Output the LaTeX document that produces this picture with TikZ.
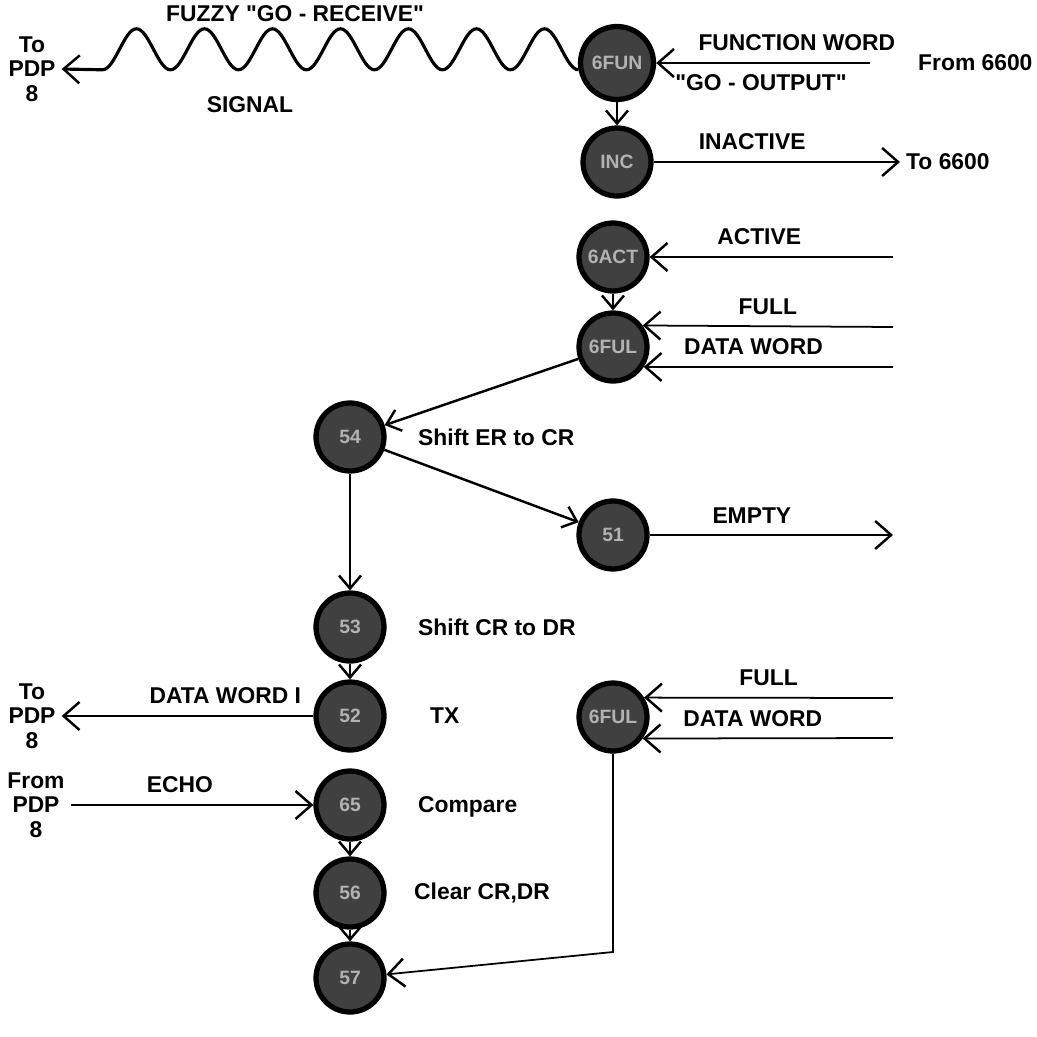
\documentclass[tikz,border=0pt]{standalone}
\usepackage{fontspec}
\setmainfont{Liberation Sans}
\usepackage{tikz}
\usetikzlibrary{arrows.meta}
\newcommand{\dq}{\XeTeXglyph\XeTeXcharglyph"22\relax}

\begin{document}
\begin{tikzpicture}[
    x=0.02cm, y=-0.02cm,
    every node/.style={font=\bfseries\fontsize{13}{15}\selectfont},
    state/.style={circle, draw=black, line width=3pt, fill=black!75, minimum size=1.36cm, inner sep=0pt, text=black!30, font=\bfseries\fontsize{11}{12}\selectfont},
    arrow/.style={-{Straight Barb[length=3.2mm, width=5.6mm, line width=1.4pt]}, line width=1pt},
    flow/.style={-{Straight Barb[length=2.6mm, width=4.4mm, line width=1.4pt]}, line width=1.4pt},
    note/.style={anchor=west},
    side/.style={align=center, font=\bfseries\fontsize{13}{14}\selectfont}
]
    \useasboundingbox (0,0) rectangle (1037,1037);

    % States
    \node (fun)  [state, minimum size=1.46cm] at (617,63) {6FUN};
    \node (inc)  [state] at (617,162) {INC};
    \node (act)  [state] at (613,257) {6ACT};
    \node (ful)  [state] at (613,347) {6FUL};
    \node (s54)  [state] at (350,437) {54};
    \node (s51)  [state] at (613,535) {51};
    \node (s53)  [state] at (350,627) {53};
    \node (s52)  [state] at (350,716) {52};
    \node (s65)  [state] at (350,805) {65};
    \node (s56)  [state] at (350,893) {56};
    \node (s57)  [state] at (350,978) {57};
    \node (ful2) [state] at (613,717) {6FUL};

    % Outside ends
    \node (from66) [anchor=west] at (912,63) {From 6600};
    \node (to66) [anchor=west] at (900,162) {To 6600};
    \node (topdp) [side] at (32,69) {To\\PDP\\8};
    \node (topdp2) [side] at (32,716) {To\\PDP\\8};
    \node (frompdp) [side] at (36,805) {From\\PDP\\8};
    \coordinate (actin) at (893,257);
    \coordinate (fulin) at (893,327);
    \coordinate (datin) at (893,367);
    \coordinate (emptyout) at (893,535);
    \coordinate (fulin2) at (893,698);
    \coordinate (datin2) at (893,738);
    \coordinate (bend) at (613,952);

    % Fuzzy signal
    \node (fuzzy) at (295,14) {FUZZY \dq GO - RECEIVE\dq};
    \node (signal) at (250,105) {SIGNAL};
    \draw [arrow, line width=1.8pt] (fun.190)
        \foreach \k in {1,...,7} {cos ++(-17,-20.5) sin ++(-17,-20.5) cos ++(-17,20.5) sin ++(-17,20.5)}
        -- (topdp.east);

    % Control lines
    \draw [arrow, shorten <=0.84cm] (from66.west) -- node[above=3pt, pos=0.45] {FUNCTION WORD} node[below=3pt, pos=0.59] {\dq GO - OUTPUT\dq} (fun);
    \draw [flow] (fun) -- (inc);
    \draw [arrow] (inc) -- node[above=3pt, pos=0.4] {INACTIVE} (to66.west);
    \draw [arrow] (actin) -- node[above=3pt, pos=0.55] {ACTIVE} (act);
    \draw [flow] (act) -- (ful);
    \draw [arrow] (fulin) -- node[above=3pt] {FULL} (ful.36);
    \draw [arrow] (datin) -- node[above=3pt, pos=0.56] {DATA WORD} (ful.-33);

    % Main sequence
    \draw [flow] (ful) -- (s54);
    \draw [flow] (s54) -- (s51);
    \draw [arrow] (s51) -- node[above=3pt, pos=0.42] {EMPTY} (emptyout);
    \draw [flow] (s54) -- (s53);
    \draw [flow] (s53) -- (s52);
    \draw [arrow] (s52) -- node[above=3pt, pos=0.35] {DATA WORD I} (topdp2.east);
    \draw [arrow] (frompdp.east) -- node[above=3pt, pos=0.45] {ECHO} (s65);
    \draw [flow] (s65) -- (s56);
    \draw [flow] (s56) -- (s57);

    % Second full
    \draw [arrow] (fulin2) -- node[above=3pt] {FULL} (ful2.32);
    \draw [arrow] (datin2) -- node[above=3pt, pos=0.56] {DATA WORD} (ful2.-36);
    \draw [arrow] (ful2) -- (bend) -- (s57);

    % Notes
    \node (n54) [note] at (412,437) {Shift ER to CR};
    \node (n53) [note] at (412,627) {Shift CR to DR};
    \node (n52) [note] at (424,716) {TX};
    \node (n65) [note] at (412,807) {Compare};
    \node (n56) [note] at (408,893) {Clear CR,DR};

\end{tikzpicture}
\end{document}
